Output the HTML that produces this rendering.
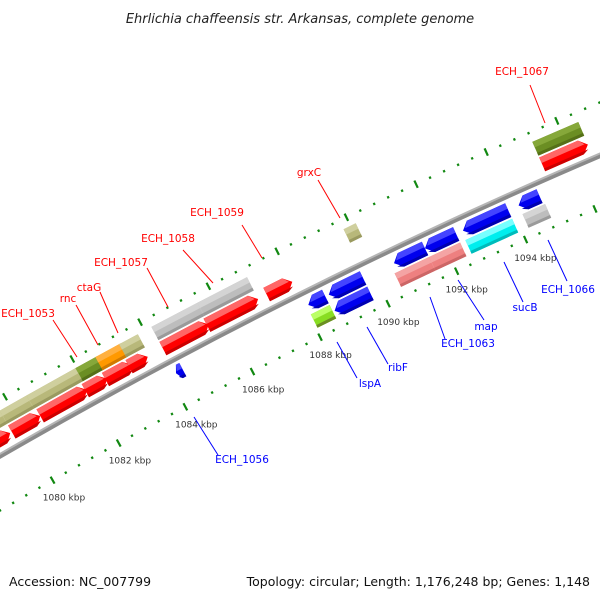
<!DOCTYPE html>
<html><head><meta charset="utf-8"><style>
body{margin:0;background:#fff}
svg{display:block}
text{font-family:"DejaVu Sans","Liberation Sans",sans-serif}
</style></head><body>
<svg id="map" width="600" height="600" viewBox="0 0 600 600" xmlns="http://www.w3.org/2000/svg">
<text x="300" y="23" text-anchor="middle" font-size="13" font-style="italic" fill="#222">Ehrlichia chaffeensis str. Arkansas, complete genome</text>
<g id="ticks"></g><g id="backbone"></g><g id="genes"></g><g id="labels"></g>
<text x="9" y="586" font-size="12.5" fill="#111">Accession: NC_007799</text>
<text x="590" y="586" text-anchor="end" font-size="12.5" fill="#111">Topology: circular; Length: 1,176,248 bp; Genes: 1,148</text>
</svg>
<script>
// ---- data (kbp) ----
const tickLabelKbp=[1080,1082,1084,1086,1088,1090,1092,1094];
// forward CDS (red, outer track)
const fwdStart=[1078.9,1079.7,1080.55,1081.9,1082.5,1083.2,1084.2,1085.5,1087.25,1095.2];
const fwdEnd  =[1079.65,1080.55,1081.95,1082.55,1083.3,1083.75,1085.55,1087.0,1088.0,1096.5];
// forward gene track
const fgStart=[1078.8,1079.7,1080.5,1081.96,1082.55,1083.25,1084.2,1085.55,1089.8,1095.2];
const fgEnd  =[1079.7,1080.5,1081.96,1082.6,1083.3,1083.8,1085.55,1087.0,1090.15,1096.5];
const fgColor=["#b8b87a","#b8b87a","#b8b87a","#6b8e23","#ff9900","#b8b87a","#bdbdbd","#bdbdbd","#b8b87a","#6b8e23"];
// reverse CDS (blue)
const revStart=[1084.2,1088.1,1088.7,1090.6,1091.5,1092.6,1094.2];
const revEnd  =[1084.4,1088.6,1089.7,1091.5,1092.4,1093.9,1094.8];
// reverse gene track
const rgStart=[1088.05,1088.65,1090.5,1091.5,1092.55,1094.2];
const rgEnd  =[1088.6,1089.7,1091.5,1092.4,1093.9,1094.85];
const rgColor=["#88dd22","#0000ee","#ee8080","#ee8080","#00eeee","#bdbdbd"];
const rgArrow=[0,1,0,0,0,0];
// ---- geometry ----
const CX=2803,CY=5303,R=5600,TH0=Math.atan2(-0.894,-0.447),K=0.00683;
function P(k,d){const t=TH0+(k-1088)*K;return [CX+(R+d)*Math.cos(t),CY+(R+d)*Math.sin(t)];}
const NS="http://www.w3.org/2000/svg";
function mk(tag,parent,attrs){const e=document.createElementNS(NS,tag);for(const a in attrs)e.setAttribute(a,attrs[a]);parent.appendChild(e);return e;}
const light={"#ff0000":"#ff6666","#b8b87a":"#cfcf9e","#6b8e23":"#86a83a","#ff9900":"#ffb040","#bdbdbd":"#d4d4d4","#0000ee":"#4444ff","#88dd22":"#bbff66","#ee8080":"#f4a4a4","#00eeee":"#77ffff"};
const dark={"#ff0000":"#cc0000","#b8b87a":"#9a9a60","#6b8e23":"#557018","#ff9900":"#d07a00","#bdbdbd":"#9a9a9a","#0000ee":"#0000b0","#88dd22":"#6b8e23","#ee8080":"#cc6666","#00eeee":"#00bbbb"};
function shape(a,b,d,h,dir,color,g,name){
  const head=Math.min(0.2,(b-a)*0.5);const pts=[],top=[],bot=[];
  const o=d+h/2,i=d-h/2,m=d+h*0.1,q=i+h*0.2;
  if(dir===1){pts.push(P(a,o),P(b-head,o),P(b,d),P(b-head,i),P(a,i));top.push(P(a,o),P(b-head,o),P(b-head*0.4,m),P(a,m));bot.push(P(a,q),P(b-head*0.2,q),P(b-head,i),P(a,i));}
  else if(dir===-1){pts.push(P(b,o),P(a+head,o),P(a,d),P(a+head,i),P(b,i));top.push(P(b,o),P(a+head,o),P(a+head*0.4,m),P(b,m));bot.push(P(b,q),P(a+head*0.2,q),P(a+head,i),P(b,i));}
  else{pts.push(P(a,o),P(b,o),P(b,i),P(a,i));top.push(P(a,o),P(b,o),P(b,m),P(a,m));bot.push(P(a,q),P(b,q),P(b,i),P(a,i));}
  const f=p=>p.map(q=>q[0].toFixed(1)+","+q[1].toFixed(1)).join(" ");
  const e=mk("polygon",g,{points:f(pts),fill:color});
  
  
  const t=mk("polygon",g,{points:f(top),fill:light[color]||color});
  
  
  const s=mk("polygon",g,{points:f(bot),fill:dark[color]||color});
  
  
}
// backbone
const bb=document.getElementById("backbone");
function arcPath(d){let s="";for(let k=1077;k<=1098;k+=0.5){const p=P(k,d);s+=(s?"L":"M")+p[0].toFixed(1)+","+p[1].toFixed(1);}return s;}
const b1=mk("path",bb,{d:arcPath(-1),stroke:"#8a8a8a","stroke-width":5,fill:"none"});


const b2=mk("path",bb,{d:arcPath(1),stroke:"#b5b5b5","stroke-width":2,fill:"none"});


// ticks
const tg=document.getElementById("ticks");
for(let s=0;s<=50;s++){const k=1078+s*0.4;const major=(s%5===0);
  [48,-48].forEach(d=>{
    if(major){const a=P(k,d-4),b=P(k,d+4);const l=mk("line",tg,{x1:a[0],y1:a[1],x2:b[0],y2:b[1],stroke:"#118811","stroke-width":2.2});
      
      }
    else{const a=P(k,d-1.2),b=P(k,d+1.2);const l=mk("line",tg,{x1:a[0],y1:a[1],x2:b[0],y2:b[1],stroke:"#118811","stroke-width":2.2});
      
      }
  });
}
tickLabelKbp.forEach(k=>{const p=P(k,-67);const t=mk("text",tg,{x:(p[0]+2).toFixed(1),y:(p[1]+4).toFixed(1),"text-anchor":"middle","font-size":"9",fill:"#333"});t.textContent=k+" kbp";
  
  });
// genes
const gg=document.getElementById("genes");
fgStart.forEach((a,i)=>shape(a,fgEnd[i],31,15,0,fgColor[i],gg,'forward-gene'));
fwdStart.forEach((a,i)=>shape(a,fwdEnd[i],14,15,1,"#ff0000",gg,'forward-cds'));
revStart.forEach((a,i)=>shape(a,revEnd[i],-14,15,-1,"#0000ee",gg,'reverse-cds'));
rgStart.forEach((a,i)=>shape(a,rgEnd[i],-31,15,rgArrow[i]?-1:0,rgColor[i],gg,'reverse-gene'));
// labels (annotation layout)
const lg=document.getElementById("labels");
const labs=[
 ["ECH_1067",522,75,530,85,545,123,"#f00"],["grxC",309,176,318,180,340,218,"#f00"],
 ["ECH_1059",217,216,242,225,262,258,"#f00"],["ECH_1058",168,242,183,250,213,283,"#f00"],
 ["ECH_1057",121,266,147,268,168,307,"#f00"],["ctaG",89,291,100,292,118,333,"#f00"],
 ["rnc",68,302,76,305,98,345,"#f00"],["ECH_1053",28,317,53,320,77,357,"#f00"],
 ["ECH_1056",242,463,194,417,218,455,"#00f"],["lspA",370,387,337,342,357,378,"#00f"],
 ["ribF",398,371,367,327,388,364,"#00f"],["ECH_1063",468,347,430,297,445,339,"#00f"],
 ["map",486,330,458,280,484,320,"#00f"],["sucB",525,311,504,262,523,302,"#00f"],
 ["ECH_1066",568,293,548,240,567,281,"#00f"]];
labs.forEach(L=>{
  const ln=mk("line",lg,{x1:L[3],y1:L[4],x2:L[5],y2:L[6],stroke:L[7],"stroke-width":1});
  
  
  const t=mk("text",lg,{x:L[1],y:L[2],"text-anchor":"middle","font-size":"10.5",fill:L[7]});t.textContent=L[0];
  
  
});
</script>
</body></html>
